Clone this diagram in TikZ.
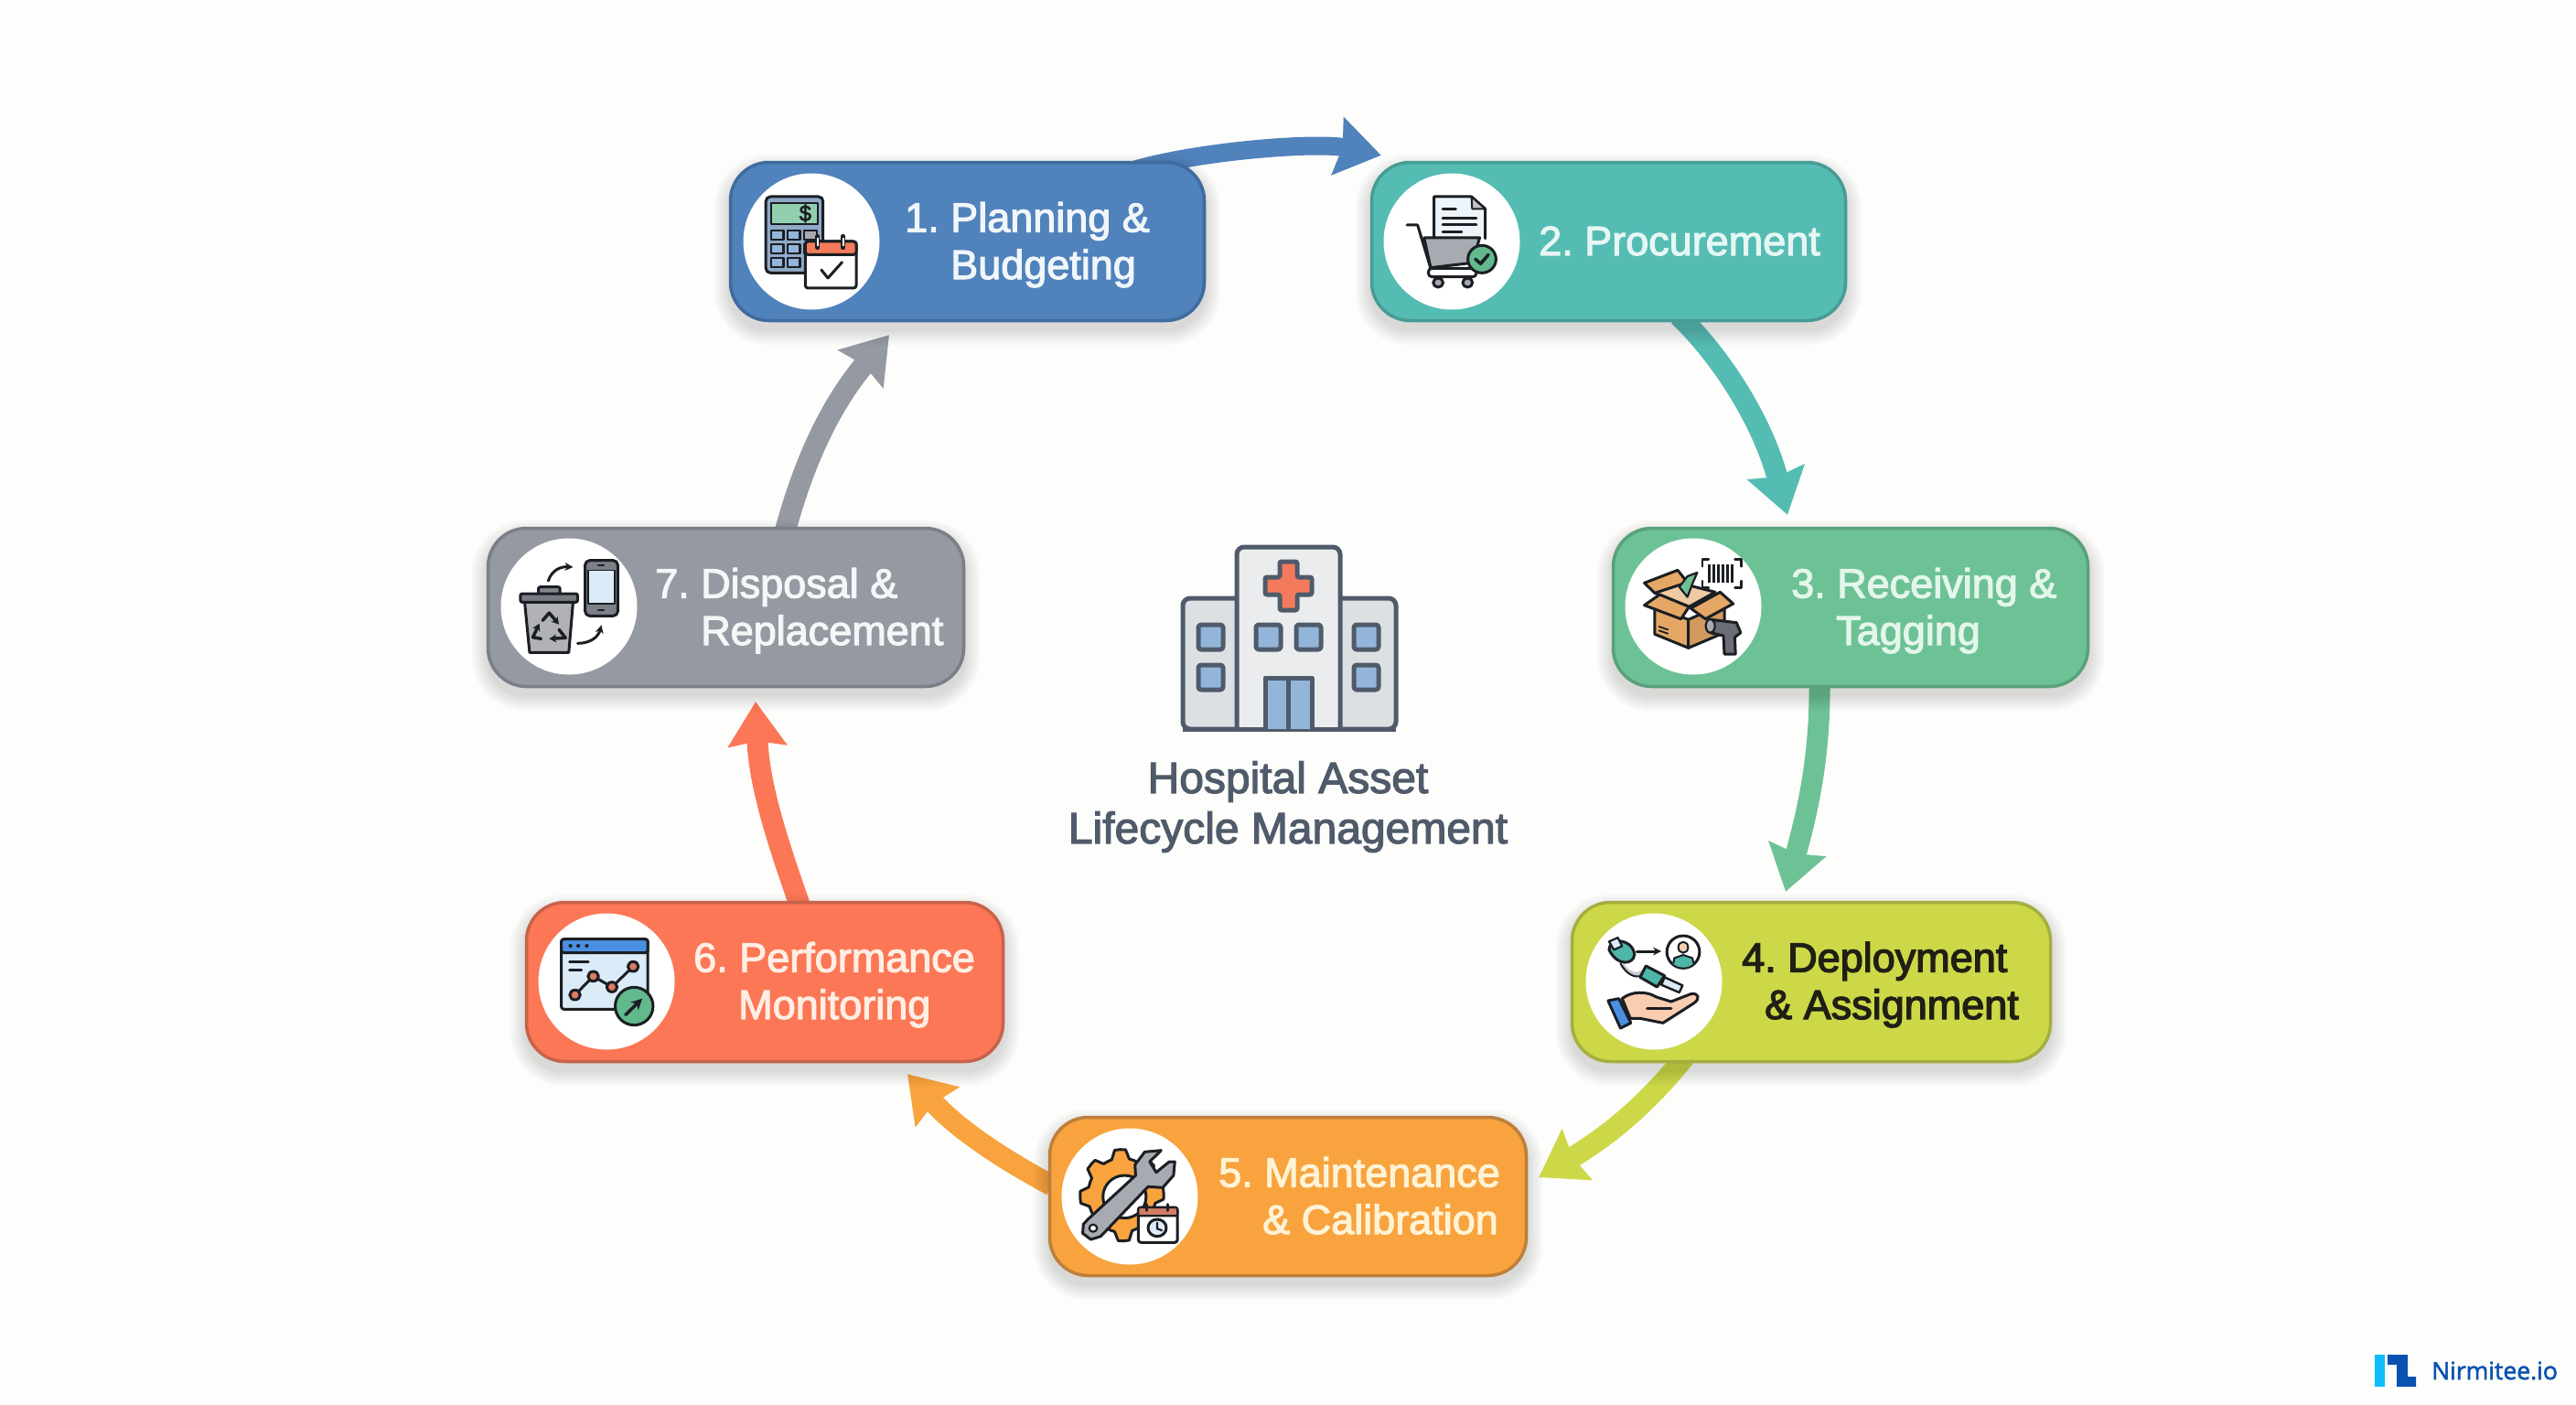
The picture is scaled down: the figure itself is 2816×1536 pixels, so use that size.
\documentclass[tikz,border=0pt]{standalone}
\usepackage{fontspec}
\setmainfont{Liberation Sans}
\newfontfamily\labf[FakeBold=2.5]{Liberation Sans}
\newfontfamily\labb[FakeBold=3]{Liberation Sans}
\newfontfamily\logof[FakeBold=2]{Open Sans}
\usetikzlibrary{arrows.meta}
\definecolor{bgc}{HTML}{FDFDFB}
\definecolor{c1}{HTML}{5082BC}\definecolor{b1}{HTML}{3F6B9E}\definecolor{t1}{HTML}{F0F6FA}
\definecolor{c2}{HTML}{55BCB3}\definecolor{b2}{HTML}{479C95}\definecolor{t2}{HTML}{E6F7F3}
\definecolor{c3}{HTML}{6DC295}\definecolor{b3}{HTML}{59A17B}\definecolor{t3}{HTML}{E4F6EC}
\definecolor{c4}{HTML}{CDD848}\definecolor{b4}{HTML}{A5AE40}\definecolor{t4}{HTML}{1F1F14}
\definecolor{c5}{HTML}{F8A33E}\definecolor{b5}{HTML}{BD7F3A}\definecolor{t5}{HTML}{FFF3D6}
\definecolor{c6}{HTML}{FC7756}\definecolor{b6}{HTML}{C6634A}\definecolor{t6}{HTML}{FFEEE4}
\definecolor{c7}{HTML}{9599A2}\definecolor{b7}{HTML}{7A7E87}\definecolor{t7}{HTML}{F5F6F7}
\definecolor{ink}{HTML}{1B1E23}
\definecolor{slate}{HTML}{4F5B6A}
\definecolor{win}{HTML}{93B5DA}
\definecolor{red1}{HTML}{F47A5C}
\definecolor{grn}{HTML}{62BA8C}
\definecolor{teal1}{HTML}{4DB6A8}
\definecolor{gry}{HTML}{A7AAB0}
\definecolor{dgry}{HTML}{6B6E75}
\definecolor{card}{HTML}{E4A766}
\definecolor{skin}{HTML}{F8CDB0}
\definecolor{sky}{HTML}{4A90E2}
\definecolor{pale}{HTML}{DCEBF8}
\definecolor{logoL}{HTML}{0DBBFF}
\definecolor{logoD}{HTML}{0A52B2}
\definecolor{wing}{HTML}{DDE0E3}
\definecolor{tower}{HTML}{EAECEE}
\tikzset{
  stagebox/.style n args={2}{draw=#2,fill=#1,line width=3.5pt,rounded corners=42pt,inner sep=0pt},
  disc/.style={fill=white,inner sep=0pt,circle,minimum size=149pt},
  label/.style={anchor=base west,inner sep=0pt,align=left,font=\labf\fontsize{45}{51.5}\selectfont\frenchspacing},
  flow/.style={line width=23pt,-{Stealth[length=48pt,width=63pt,inset=5pt]},color=#1},
  zm/.style n args={3}{shift={(#1,#2)},x=#3pt,y=-0.33333pt},
  ic/.style={draw=ink,line width=3pt,line join=round,line cap=round},
  bld/.style={draw=slate,line width=5pt,line join=round},
}
\newcommand{\softsh}[4]{%
  \foreach \e in {16,13,10,7,4,1}{%
    \fill[black,opacity=.022,rounded corners={42pt+\e pt}]
      ({#1-\e},{#2-\e+9}) rectangle ({#3+\e},{#4+\e+9});}}
\begin{document}
\begin{tikzpicture}[x=1pt,y=-1pt]
\useasboundingbox (0,0) rectangle (2816,1536);
\fill[bgc] (0,0) rectangle (2816,1536);

\path
  (1057.5,264) node[minimum width=521pt,minimum height=176pt] (n1) {}
  (1758.5,264) node[minimum width=521pt,minimum height=176pt] (n2) {}
  (2023,664)   node[minimum width=522pt,minimum height=176pt] (n3) {}
  (1980,1073.5) node[minimum width=526pt,minimum height=177pt] (n4) {}
  (1408,1308)  node[minimum width=524pt,minimum height=176pt] (n5) {}
  (836,1073.5) node[minimum width=524pt,minimum height=177pt] (n6) {}
  (793.5,664)  node[minimum width=523pt,minimum height=176pt] (n7) {};

% connectors
\draw[flow=c1,line width=20pt] ([xshift=-78pt,yshift=-10pt]n1.north east) .. controls (1310,165) and (1440,155) .. ([xshift=12pt,yshift=6pt]n2.north west);
\draw[flow=c2] ([xshift=76.5pt,yshift=7pt]n2.south) .. controls (1877,385) and (1925,455) .. ([xshift=-69pt,yshift=13pt]n3.north);
\draw[flow=c3] ([xshift=-34pt,yshift=7pt]n3.south) .. controls (1990,830) and (1975,890) .. ([xshift=-28pt,yshift=10pt]n4.north);
\draw[flow=c4] ([xshift=-138pt,yshift=7pt]n4.south) .. controls (1810,1195) and (1770,1235) .. ([xshift=12pt,yshift=21pt]n5.east);
\draw[flow=c5] ([xshift=4pt,yshift=12pt]n5.west) .. controls (1105,1272) and (1050,1238) .. ([xshift=156pt,yshift=-12pt]n6.south);
\draw[flow=c6] ([xshift=39pt,yshift=-7pt]n6.north) .. controls (850,920) and (830,860) .. ([xshift=32.5pt,yshift=-15pt]n7.south);
\draw[flow=c7] ([xshift=64.5pt,yshift=-6pt]n7.north) .. controls (880,500) and (910,440) .. ([xshift=-85.5pt,yshift=-14pt]n1.south);

% shadows
\softsh{797}{176}{1318}{352}
\softsh{1498}{176}{2019}{352}
\softsh{1762}{576}{2284}{752}
\softsh{1717}{985}{2243}{1162}
\softsh{1146}{1220}{1670}{1396}
\softsh{574}{985}{1098}{1162}
\softsh{532}{576}{1055}{752}

% boxes
\node[stagebox={c1}{b1},minimum width=518pt,minimum height=173pt] at (n1) {};
\node[stagebox={c2}{b2},minimum width=518pt,minimum height=173pt] at (n2) {};
\node[stagebox={c3}{b3},minimum width=519pt,minimum height=173pt] at (n3) {};
\node[stagebox={c4}{b4},minimum width=523pt,minimum height=174pt] at (n4) {};
\node[stagebox={c5}{b5},minimum width=521pt,minimum height=173pt] at (n5) {};
\node[stagebox={c6}{b6},minimum width=521pt,minimum height=174pt] at (n6) {};
\node[stagebox={c7}{b7},minimum width=520pt,minimum height=173pt] at (n7) {};

% discs
\node[disc] (d1) at (887,264) {};
\node[disc] (d2) at (1587,264) {};
\node[disc] (d3) at (1851,663) {};
\node[disc] (d4) at (1808,1073) {};
\node[disc] (d5) at (1235,1308) {};
\node[disc] (d6) at (663,1073) {};
\node[disc] (d7) at (622,663) {};

% labels (anchor is the baseline of the last line)
\node[label,text=t1] (l1) at (989,305) {1. Planning \&\\\hspace*{50pt}Budgeting};
\node[label,text=t2] (l2) at (1682,279) {2. Procurement};
\node[label,text=t3] (l3) at (1958,705) {3. Receiving \&\\\hspace*{49pt}Tagging};
\node[label,text=t4,font=\labb\fontsize{45}{51.5}\selectfont\frenchspacing] (l4) at (1904,1114) {4. Deployment\\\hspace*{25pt}\& Assignment};
\node[label,text=t5] (l5) at (1332,1349) {5. Maintenance\\\hspace*{48pt}\& Calibration};
\node[label,text=t6] (l6) at (758,1114) {6. Performance\\\hspace*{49pt}Monitoring};
\node[label,text=t7] (l7) at (716,705) {7. Disposal \&\\\hspace*{50pt}Replacement};

% centre building
\draw[bld,fill=wing,rounded corners=8pt] (1293,654) rectangle (1526,797);
\draw[bld,fill=tower,rounded corners=8pt] (1352,797) -- (1352,598) -- (1465,598) -- (1465,797);
\draw[bld] (1293,797) -- (1526,797);
\draw[bld,fill=red1,rounded corners=2pt] (1399,614) -- (1418,614) -- (1418,631) -- (1434,631) -- (1434,650) -- (1418,650) -- (1418,667) -- (1399,667) -- (1399,650) -- (1383,650) -- (1383,631) -- (1399,631) -- cycle;
\foreach \a/\b in {1310/683,1310/727,1373/683,1417/683,1480/683,1480/727}{
  \draw[bld,fill=win,rounded corners=3pt] (\a,\b) rectangle (\a+27,\b+27);}
\draw[bld,fill=win] (1383,797) -- (1383,741) -- (1434,741) -- (1434,797);
\draw[bld] (1408.5,741) -- (1408.5,797);
\node[inner sep=0pt,align=center,text=slate,font=\labf\fontsize{48}{55}\selectfont] (title) at (1408,882) {Hospital Asset\\Lifecycle Management};

% logo
\fill[logoL] (2596,1481) rectangle (2607,1516);
\fill[logoD] (2610,1481) -- (2632,1481) -- (2632,1505) -- (2641,1505) -- (2641,1516) -- (2620,1516) -- (2620,1492) -- (2610,1492) -- cycle;
\node[anchor=base west,inner sep=0pt,text=logoD,font=\logof\fontsize{26.5}{30}\selectfont] (brand) at (2658,1508) {Nirmitee.io};

% icon 1
\begin{scope}[zm={780}{150}{0.4847}]
\draw[ic,fill=win!80!gray,rounded corners=5pt] (118,195) rectangle (247,445);
\draw[ic,fill=grn!70!white,line width=2.2pt] (130,215) rectangle (235,285);
\node[inner sep=0pt,text=ink,font=\labf\fontsize{24}{24}\selectfont] (dollar) at (207,250) {\$};
\foreach \a/\b in {130/307,167/307,130/352,167/352,205/352,130/397,167/397}{
  \draw[ic,fill=win,line width=2.2pt] (\a,\b) rectangle (\a+28,\b+28);}
\draw[ic,fill=gry,line width=2.2pt] (205,307) rectangle (233,335);
\draw[ic,fill=white,rounded corners=3pt] (207,342) rectangle (322,495);
\draw[ic,fill=red1,rounded corners=3pt] (207,385) -- (207,342) -- (322,342) -- (322,385) -- cycle;
\draw[ic,line width=5pt] (235,325) -- (235,362) (292,325) -- (292,362);
\draw[white,line width=2pt] (235,330) -- (235,358) (292,330) -- (292,358);
\draw[ic] (243,435) -- (258,462) -- (290,410);
\end{scope}

% icon 2
\begin{scope}[zm={1480}{130}{0.35714}]
\draw[ic,fill=pale!50!white] (245,392) -- (245,255) -- (360,255) -- (402,295) -- (402,392);
\draw[ic,fill=gry!70!white,line width=2pt] (360,255) -- (362,295) -- (402,295) -- cycle;
\draw[ic] (272,297) -- (312,297) (272,325) -- (375,325) (272,348) -- (375,348) (272,372) -- (330,372);
\draw[ic,fill=gry] (215,390) -- (385,390) -- (362,472) -- (235,488) -- cycle;
\draw[ic] (163,348) -- (195,348) -- (235,490);
\draw[ic,fill=white,rounded corners=4pt] (228,490) rectangle (375,518);
\foreach \a in {258,348}{\draw[ic,fill=gry] (\a,537) ellipse [x radius=15,y radius=15];}
\draw[ic,fill=grn] (392,460) ellipse [x radius=43,y radius=45];
\draw[ic,line width=3.5pt] (372,460) -- (388,475) -- (412,445);
\end{scope}

% icon 3
\begin{scope}[zm={1750}{560}{0.35714}]
\draw[ic,fill=card!60!white] (165,265) -- (235,230) -- (350,262) -- (270,310) -- cycle;
\draw[ic,fill=card] (133,232) -- (235,190) -- (265,230) -- (165,265) -- cycle;
\draw[ic,fill=c3,line width=2.2pt] (240,245) -- (265,210) -- (295,198) -- (280,235) -- (265,278) -- cycle;
\draw[ic,fill=card] (165,310) -- (268,352) -- (268,445) -- (165,400) -- cycle;
\draw[ic,fill=card!92!black] (268,352) -- (378,300) -- (378,395) -- (268,445) -- cycle;
\draw[ic,fill=card] (133,305) -- (180,270) -- (270,310) -- (245,350) -- cycle;
\draw[ic,fill=card] (275,315) -- (365,262) -- (405,300) -- (320,350) -- cycle;
\draw[ic,line width=1.8pt] (178,375) -- (205,385) (178,388) -- (205,398);
\foreach \a in {332,346,360,374,388,402}{\draw[ic,line width=2.6pt,line cap=butt] (\a,172) -- (\a,230);}
\draw[ic,line width=2.4pt] (330,155) -- (310,155) -- (310,178) (410,155) -- (430,155) -- (430,178) (310,225) -- (310,248) -- (330,248) (430,225) -- (430,248) -- (410,248);
\draw[ic,fill=dgry] (335,352) -- (415,362) -- (428,395) -- (410,410) -- (412,465) -- (378,465) -- (375,405) -- (335,395) -- cycle;
\draw[ic,fill=gry,line width=2.2pt] (335,373) ellipse [x radius=14,y radius=22];
\end{scope}

% icon 4
\begin{scope}[zm={1700}{970}{0.35714}]
\draw[gry!60!white,line width=5pt] (205,255) .. controls (225,285) and (245,290) .. (268,280);
\draw[ic,line width=2pt] (200,250) .. controls (222,290) and (245,297) .. (265,290);
\draw[ic,fill=teal1] (165,205) .. controls (165,165) and (235,165) .. (243,220) .. controls (240,255) and (190,260) .. (165,205) -- cycle;
\draw[ic,fill=pale,line width=2.2pt] (165,178) -- (192,165) -- (205,193) -- (180,205) -- cycle;
\draw[ic,-{Stealth[length=9pt,width=9pt]}] (250,210) -- (325,210);
\draw[ic,fill=white] (392,212) ellipse [x radius=50,y radius=53];
\begin{scope}
\clip (392,212) ellipse [x radius=48,y radius=51];
\fill[teal1] (355,270) -- (362,232) -- (392,222) -- (422,232) -- (428,270) -- cycle;
\draw[ink,line width=2pt] (362,250) -- (365,232) -- (392,222) -- (420,232) -- (424,250);
\end{scope}
\draw[ic,fill=skin,line width=2pt] (392,197) ellipse [x radius=15,y radius=18];
\draw[ic,fill=pale,line width=2.4pt] (335,295) -- (390,322) -- (380,345) -- (325,320) -- cycle;
\draw[ic,fill=teal1] (278,258) -- (335,290) -- (312,327) -- (260,295) -- cycle;
\draw[ic,fill=skin] (205,365) .. controls (235,340) and (280,340) .. (310,360) -- (355,375) -- (415,350) .. controls (440,345) and (445,365) .. (425,380) -- (330,445) -- (260,430) -- (230,430) -- cycle;
\draw[ic] (282,397) -- (355,397);
\draw[ic,fill=sky] (162,372) -- (195,365) -- (232,445) -- (200,462) -- cycle;
\end{scope}

% icon 5
\begin{scope}[zm={1130}{1210}{0.35714}]
\draw[ic,fill=c5] plot[samples at={0,7.5,...,352.5},variable=\t] ({270+(mod(\t,45)<22.5?128:104)*cos(\t-10)},{290+(mod(\t,45)<22.5?150:122)*sin(\t-10)}) -- cycle;
\draw[ic,fill=white] (278,295) ellipse [x radius=66,y radius=70];
\draw[ic,fill=gry] (152,385) -- (165,370) -- (312,225) -- (310,190) -- (340,148) -- (390,143) -- (355,180) -- (375,215) -- (415,180) -- (432,180) -- (428,225) -- (395,265) -- (350,262) -- (205,425) -- (175,435) -- (150,415) -- cycle;
\draw[ic,fill=white,line width=2.2pt] (182,398) ellipse [x radius=12,y radius=12];
\draw[ic,fill=white,rounded corners=3pt] (320,330) rectangle (440,445);
\draw[ic,fill=red1!70!gray,rounded corners=2pt,line width=2.2pt] (320,358) -- (320,330) -- (440,330) -- (440,358) -- cycle;
\draw[ic] (345,320) -- (345,340) (410,320) -- (410,340);
\draw[ic,fill=pale] (378,397) ellipse [x radius=28,y radius=28];
\draw[ic,line width=2.2pt] (378,380) -- (378,400) -- (392,405);
\end{scope}

% icon 6
\begin{scope}[zm={560}{970}{0.35714}]
\draw[ic,fill=pale,rounded corners=3pt] (150,170) rectangle (415,400);
\draw[ic,fill=sky,rounded corners=3pt] (150,215) -- (150,170) -- (415,170) -- (415,215) -- cycle;
\foreach \a in {178,202,228}{\fill[ink] (\a,192) ellipse [x radius=6,y radius=6];}
\draw[ic] (175,245) -- (233,245) (175,272) -- (212,272);
\draw[ic] (192,353) -- (248,292) -- (305,327) -- (370,260);
\foreach \a/\b in {192/353,248/292,305/327,370/260}{\draw[ic,fill=red1!80!gray] (\a,\b) ellipse [x radius=16,y radius=16];}
\draw[ic,fill=grn] (373,390) ellipse [x radius=58,y radius=62];
\draw[ic,line width=3.5pt,-{Stealth[length=12pt,width=12pt]}] (347,418) -- (398,365);
\end{scope}

% icon 7
\begin{scope}[zm={520}{560}{0.35714}]
\draw[ic,fill=gry!90!white] (150,295) -- (298,295) -- (285,460) -- (165,460) -- cycle;
\draw[ic,fill=dgry!60!gry,rounded corners=2pt] (192,267) -- (192,245) -- (258,245) -- (258,267);
\draw[ic,fill=dgry!80!gry,rounded corners=2pt] (137,267) rectangle (312,295);
\draw[ic,line width=3.5pt,-{Stealth[length=8pt,width=9pt]}] (205,355) -- (225,330) -- (255,368);
\draw[ic,line width=3.5pt,-{Stealth[length=8pt,width=9pt]}] (255,385) -- (275,412) -- (225,415);
\draw[ic,line width=3.5pt,-{Stealth[length=8pt,width=9pt]}] (200,415) -- (175,410) -- (195,365);
\draw[ic,fill=dgry!70!gry,rounded corners=5pt] (335,158) rectangle (435,340);
\draw[ic,fill=pale,line width=1.6pt] (345,190) rectangle (425,300);
\draw[ic,line width=2.2pt] (375,173) -- (392,173) (375,320) -- (392,320);
\draw[ic,-{Stealth[length=9pt,width=9pt]}] (222,225) .. controls (235,185) and (265,178) .. (298,180);
\draw[ic,-{Stealth[length=9pt,width=9pt]}] (312,430) .. controls (350,430) and (375,410) .. (385,370);
\end{scope}
\end{tikzpicture}
\end{document}
